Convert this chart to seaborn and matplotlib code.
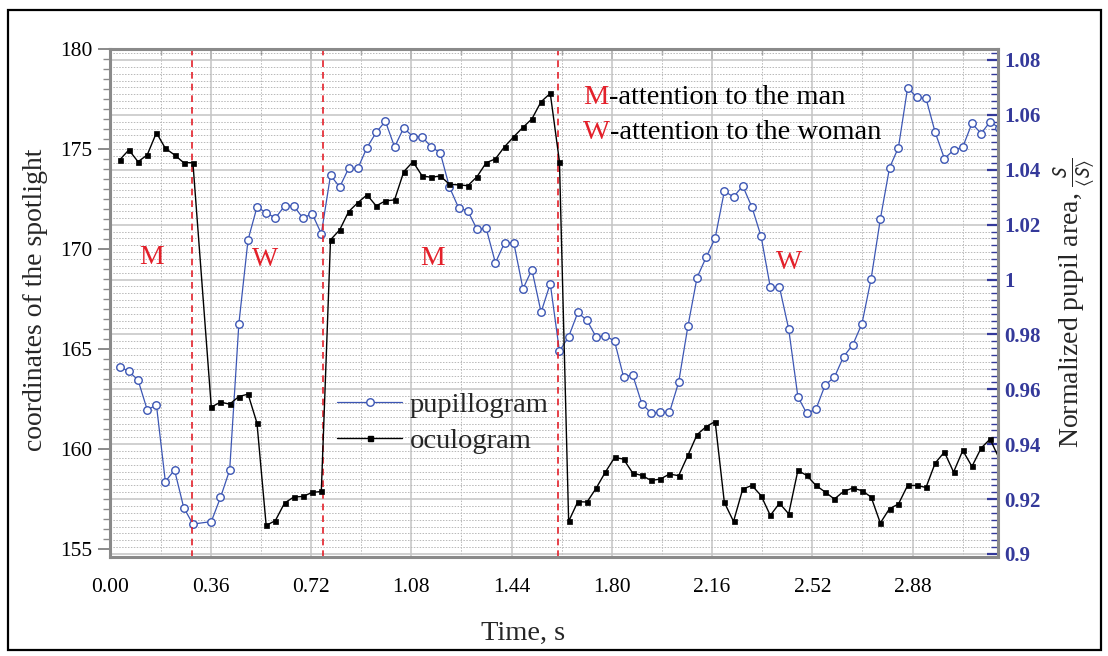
import matplotlib
matplotlib.use("Agg")
import matplotlib.pyplot as plt
import seaborn as sns
from matplotlib.ticker import MultipleLocator, FixedLocator, FuncFormatter
from matplotlib.lines import Line2D
from matplotlib.patches import Rectangle

# ---------------- data ----------------
time_s = [0.033, 0.066, 0.099, 0.132, 0.165, 0.197, 0.230, 0.263, 0.296,
          0.362, 0.395, 0.428, 0.461, 0.494, 0.526, 0.559, 0.592, 0.625, 0.658,
          0.691, 0.724, 0.757, 0.790, 0.823, 0.855, 0.888, 0.921, 0.954, 0.987,
          1.020, 1.053, 1.086, 1.119, 1.152, 1.184, 1.217, 1.250, 1.283, 1.316,
          1.349, 1.382, 1.415, 1.448, 1.481, 1.513, 1.546, 1.579, 1.612, 1.645,
          1.678, 1.711, 1.744, 1.777, 1.810, 1.842, 1.875, 1.908, 1.941, 1.974,
          2.007, 2.040, 2.073, 2.106, 2.139, 2.171, 2.204, 2.237, 2.270, 2.303,
          2.336, 2.369, 2.402, 2.435, 2.468, 2.500, 2.533, 2.566, 2.599, 2.632,
          2.665, 2.698, 2.731, 2.764, 2.797, 2.829, 2.862, 2.895, 2.928, 2.961,
          2.994, 3.027, 3.060, 3.093, 3.126, 3.158, 3.191]

oculogram = [174.47, 174.97, 174.38, 174.72, 175.83, 175.05, 174.72, 174.33, 174.33,
             162.10, 162.35, 162.25, 162.63, 162.75, 161.30, 156.18, 156.42, 157.30,
             157.60, 157.63, 157.83, 157.88,
             170.47, 170.97, 171.88, 172.33, 172.72, 172.17, 172.42, 172.47, 173.88,
             174.38, 173.67, 173.60, 173.67, 173.25, 173.22, 173.18, 173.63, 174.33,
             174.52, 175.13, 175.63, 176.10, 176.52, 177.38, 177.80, 174.38,
             156.38, 157.37, 157.35, 158.05, 158.85, 159.58, 159.50, 158.80, 158.68,
             158.43, 158.50, 158.75, 158.67, 159.68, 160.72, 161.13, 161.38, 157.33,
             156.38, 158.00, 158.18, 157.67, 156.68, 157.29, 156.76,
             158.93, 158.68, 158.18, 157.85, 157.50, 157.88, 158.05, 157.92, 157.60,
             156.30, 157.02, 157.25, 158.18, 158.18, 158.08, 159.30, 159.85, 158.85,
             159.93, 159.13, 160.05, 160.50, 159.52]

pupillogram = [0.9683, 0.9665, 0.9634, 0.9525, 0.9543, 0.9264, 0.9306, 0.9169, 0.9109,
               0.9118, 0.9206, 0.9306, 0.9839, 1.0145, 1.0264, 1.0244, 1.0224, 1.0268,
               1.0268, 1.0224, 1.0240, 1.0167,
               1.0380, 1.0337, 1.0405, 1.0405, 1.0481, 1.0536, 1.0577, 1.0483, 1.0553,
               1.0520, 1.0520, 1.0483, 1.0462, 1.0337, 1.0261, 1.0250, 1.0183, 1.0186,
               1.0061, 1.0134, 1.0134, 0.9966, 1.0036, 0.9881, 0.9985, 0.9739,
               0.9792, 0.9880, 0.9851, 0.9790, 0.9796, 0.9775, 0.9646, 0.9652, 0.9547,
               0.9514, 0.9516, 0.9516, 0.9626, 0.9829, 1.0007, 1.0082, 1.0151, 1.0322,
               1.0301, 1.0341, 1.0264, 1.0157, 0.9972, 0.9972, 0.9820,
               0.9573, 0.9512, 0.9528, 0.9616, 0.9644, 0.9719, 0.9762, 0.9839, 1.0003,
               1.0220, 1.0407, 1.0481, 1.0699, 1.0664, 1.0660, 1.0536, 1.0441, 1.0471,
               1.0483, 1.0569, 1.0532, 1.0575, 1.0552]

switch_times = [0.294, 0.762, 1.608]
region_labels = ["M", "W", "M", "W"]
region_label_t = [0.149, 0.555, 1.158, 2.436]
region_label_y = [169.6, 169.5, 169.55, 169.35]

x_ticks = [0.00, 0.36, 0.72, 1.08, 1.44, 1.80, 2.16, 2.52, 2.88]
left_ticks = [155, 160, 165, 170, 175, 180]
right_ticks = [0.90, 0.92, 0.94, 0.96, 0.98, 1.00, 1.02, 1.04, 1.06, 1.08]

legend_labels = ["pupillogram", "oculogram"]
note_lines = [("M", "-attention to the man"), ("W", "-attention to the woman")]

# ---------------- style ----------------
sns.set_style("white")
plt.rcParams["font.family"] = ["Liberation Serif", "DejaVu Serif"]
plt.rcParams["mathtext.fontset"] = "stix"

BLUE = "#3c56b4"
TICK_BLUE = "#34399a"
RED = "#e3202a"
SPINE = "#8a8a8a"

fig = plt.figure(figsize=(11.08, 6.56), dpi=100)
fig.patches.append(Rectangle((0.0072, 0.0091), 0.9865, 0.9756, transform=fig.transFigure,
                             fill=False, edgecolor="black", linewidth=1.6, zorder=0))

ax = fig.add_axes([0.0997, 0.1509, 0.8014, 0.7744])   # pupil (right scale)
ax2 = ax.twinx()                                      # oculogram (left scale)
ax.yaxis.tick_right()
ax.yaxis.set_label_position("right")
ax2.yaxis.tick_left()
ax2.yaxis.set_label_position("left")

# lines
sns.lineplot(x=time_s, y=pupillogram, ax=ax, color=BLUE, linewidth=0.9,
             marker="o", markersize=5.4, markerfacecolor="white",
             markeredgecolor=BLUE, markeredgewidth=1.0, estimator=None)
sns.lineplot(x=time_s, y=oculogram, ax=ax2, color="black", linewidth=1.0,
             marker="s", markersize=3.6, markerfacecolor="black",
             markeredgecolor="black", markeredgewidth=0.5, estimator=None)

for t in switch_times:
    ax2.axvline(t, color=RED, linestyle=(0, (4, 3)), linewidth=1.2, zorder=1)

# limits
ax.set_xlim(0, 3.188)
ax.set_ylim(0.8989, 1.084)
ax2.set_ylim(154.6, 180.02)

# x axis
ax.xaxis.set_major_locator(FixedLocator(x_ticks))
ax.xaxis.set_minor_locator(MultipleLocator(0.18))
ax.xaxis.set_major_formatter(FuncFormatter(lambda v, p: f"{v:.2f}"))
ax.tick_params(axis="x", which="major", direction="out", length=8, width=1.2,
               color=SPINE, labelsize=15.5, pad=7, labelcolor="black")
ax.tick_params(axis="x", which="minor", direction="out", length=5, width=1.0, color=SPINE)
top = ax.secondary_xaxis("top")
top.xaxis.set_major_locator(FixedLocator(x_ticks))
top.xaxis.set_minor_locator(MultipleLocator(0.18))
top.tick_params(which="major", direction="in", length=7, width=1.2, color=SPINE, labeltop=False)
top.tick_params(which="minor", direction="in", length=4, width=1.0, color=SPINE)
for s in top.spines.values():
    s.set_visible(False)

# right axis (pupil)
ax.yaxis.set_major_locator(FixedLocator(right_ticks))
ax.yaxis.set_minor_locator(MultipleLocator(0.0025))
ax.yaxis.set_major_formatter(FuncFormatter(lambda v, p: f"{v:g}"))
ax.tick_params(axis="y", which="major", direction="in", length=8, width=1.6,
               color=TICK_BLUE, labelsize=15, labelcolor=TICK_BLUE, pad=4)
ax.tick_params(axis="y", which="minor", direction="in", length=5, width=1.0, color=TICK_BLUE)
for lab in ax.get_yticklabels():
    lab.set_fontweight("bold")

# left axis (oculogram)
ax2.yaxis.set_major_locator(FixedLocator(left_ticks))
ax2.yaxis.set_minor_locator(MultipleLocator(0.5))
ax2.tick_params(axis="y", which="major", direction="out", length=9, width=1.4,
                color=SPINE, labelsize=15.5, labelcolor="black", pad=4)
ax2.tick_params(axis="y", which="minor", direction="out", length=5, width=1.0, color=SPINE)

# grid
ax.grid(which="major", axis="both", color="#c4c4c4", linewidth=1.1, linestyle="-")
ax.grid(which="minor", axis="both", color="#b8b8b8", linewidth=0.7, linestyle=(0, (1.5, 1.5)))
ax.set_axisbelow(True)
ax2.grid(False)

# spines
for s in ax.spines.values():
    s.set_visible(False)
for s in ax2.spines.values():
    s.set_color(SPINE)
    s.set_linewidth(2.2)

# labels
ax.set_xlabel("Time, s", fontsize=20.5)
ax.xaxis.set_label_coords(0.465, -0.125)
ax2.set_ylabel("coordinates of the spotlight", fontsize=20)
ax2.yaxis.set_label_coords(-0.07, 0.506)
ax.set_ylabel(r"Normalized pupil area, $\frac{\mathsf{S}}{\langle \mathsf{S}\rangle}$", fontsize=20)
ax.yaxis.set_label_coords(1.06, 0.5)

# region labels
for lab, t, y in zip(region_labels, region_label_t, region_label_y):
    ax2.text(t, y, lab, color=RED, fontsize=20, ha="center", va="center")

# note
note_y = [177.6, 175.86]
for (letter, rest), y in zip(note_lines, note_y):
    tl = ax2.text(1.697, y, letter, color=RED, fontsize=20.5, ha="left", va="center")
    ax2.annotate(rest, xy=(1, 0), xycoords=tl, ha="left", va="bottom",
                 fontsize=20.5, color="black")

# legend
handles = [Line2D([], [], color=BLUE, lw=0.9, marker="o", markersize=5.4,
                  markerfacecolor="white", markeredgecolor=BLUE),
           Line2D([], [], color="black", lw=1.0, marker="s", markersize=3.6)]
ax2.legend(handles, legend_labels, loc="upper left", bbox_to_anchor=(0.255, 0.325),
           frameon=False, fontsize=20.5, handlelength=2.3, handletextpad=0.25,
           labelspacing=0.35, borderpad=0, borderaxespad=0)

fig.savefig("out.png", dpi=100)
